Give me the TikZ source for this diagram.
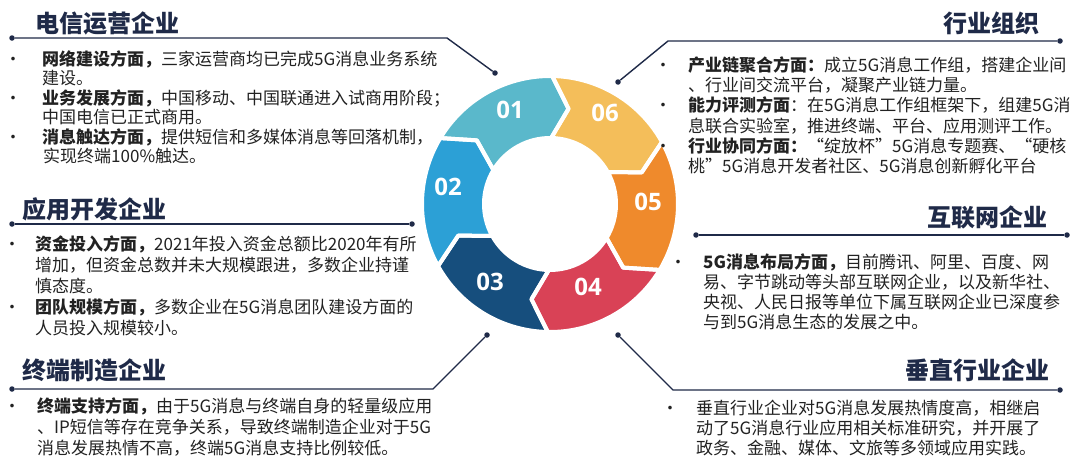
\documentclass[tikz,border=0pt]{standalone}
\usepackage{fontspec}
\setmainfont{Noto Sans CJK SC}
\newfontfamily\numfont{Open Sans}
\definecolor{c01}{HTML}{5AB8CB}
\definecolor{c02}{HTML}{2CA0D6}
\definecolor{c03}{HTML}{164E7D}
\definecolor{c04}{HTML}{D94256}
\definecolor{c05}{HTML}{EF8A2C}
\definecolor{c06}{HTML}{F4BE5A}
\definecolor{navy}{HTML}{1F2A48}
\definecolor{txtc}{HTML}{222222}
\newcommand\bl[1]{\makebox[#1pt][l]{\makebox[0pt][c]{•}}}
\newcommand\ct[1]{\hspace*{#1pt}}
\begin{document}
\begin{tikzpicture}[x=1pt,y=-1pt,
  body/.style={anchor=base west, text width=470pt, align=left, inner sep=0pt, text=txtc, font=\fontsize{17}{#1}\selectfont},
  ttl/.style={inner sep=0pt, text=navy, font=\fontsize{24}{28}\selectfont\bfseries},
  num/.style={text=white, font=\numfont\fontsize{24}{28}\selectfont\bfseries, inner sep=0pt},
  dot/.style={circle, fill=navy, inner sep=0pt, minimum size=5.5pt},
  conn/.style={draw=navy, line width=1.4pt},
  segline/.style={draw=white, line width=4pt, line join=round}]
\useasboundingbox[fill=white] (0,0) rectangle (1080,471);
% ring
\begin{scope}[shift={(550,204)}]
\foreach \b/\c in {-31/c05, 29/c06, 89/c01, 149/c02, 209/c03, 269/c04}{
  \fill[\c] ({-(\b+60)}:128) arc[start angle={-(\b+60)}, end angle={-\b}, radius=128]
     -- ({-(\b-10)}:97) -- ({-\b}:66) arc[start angle={-\b}, end angle={-(\b+60)}, radius=66]
     -- ({-(\b+50)}:97) -- cycle;
}
\foreach \b in {-31, 29, 89, 149, 209, 269}{
  \draw[segline] ({-(\b+60)}:128) arc[start angle={-(\b+60)}, end angle={-\b}, radius=128]
     -- ({-(\b-10)}:97) -- ({-\b}:66) arc[start angle={-\b}, end angle={-(\b+60)}, radius=66]
     -- ({-(\b+50)}:97) -- cycle;
}
\end{scope}
\node[num] (n01) at (510,110) {01};
\node[num] (n06) at (605,113) {06};
\node[num] (n05) at (648,202) {05};
\node[num] (n04) at (588,287) {04};
\node[num] (n03) at (490,282) {03};
\node[num] (n02) at (448,187) {02};
% connectors
\node[dot] (d1a) at (12,38) {};
\coordinate (k1) at (447,38);
\node[dot] (d1b) at (495,73) {};
\draw[conn] (d1a) -- (k1) -- (d1b);
\node[dot] (d2a) at (12,224) {};
\node[dot] (d2b) at (412,224) {};
\draw[conn] (d2a) -- (d2b);
\node[dot] (d3a) at (12,389) {};
\coordinate (k3) at (433,389);
\node[dot] (d3b) at (487,335) {};
\draw[conn] (d3a) -- (k3) -- (d3b);
\node[dot] (d4a) at (1060,41) {};
\coordinate (k4) at (668,41);
\node[dot] (d4b) at (618,82) {};
\draw[conn] (d4a) -- (k4) -- (d4b);
\node[dot] (d5a) at (696,235) {};
\node[dot] (d5b) at (1067,235) {};
\draw[conn] (d5a) -- (d5b);
\node[dot] (d6a) at (1060,390) {};
\coordinate (k6) at (673,390);
\node[dot] (d6b) at (618,335) {};
\draw[conn] (d6a) -- (k6) -- (d6b);
% titles
\node[ttl, anchor=base west] (t1) at (35,32) {电信运营企业};
\node[ttl, anchor=base west] (t2) at (22,218) {应用开发企业};
\node[ttl, anchor=base west] (t3) at (22,379) {终端制造企业};
\node[ttl, anchor=base east] (t4) at (1040,32) {行业组织};
\node[ttl, anchor=base east] (t5) at (1048,226) {互联网企业};
\node[ttl, anchor=base east] (t6) at (1050,379) {垂直行业企业};
% body texts
\node[body=19.5] (b1) at (13,65) {\bl{29}\textbf{网络建设方面，}三家运营商均已完成5G消息业务系统\\
\ct{29}建设。\\
\bl{29}\textbf{业务发展方面，}中国移动、中国联通进入试商用阶段；\\
\ct{29}中国电信已正式商用。\\
\bl{29}\textbf{消息触达方面，}提供短信和多媒体消息等回落机制，\\
\ct{30}实现终端100\%触达。};
\node[body=21] (b2) at (12,250) {\bl{23}\textbf{资金投入方面，}2021年投入资金总额比2020年有所\\
\ct{23}增加，但资金总数并未大规模跟进，多数企业持谨\\
\ct{23}慎态度。\\
\bl{23}\textbf{团队规模方面，}多数企业在5G消息团队建设方面的\\
\ct{23}人员投入规模较小。};
\node[body=21] (b3) at (12,412) {\bl{25}\textbf{终端支持方面，}由于5G消息与终端自身的轻量级应用\\
\ct{25}、IP短信等存在竞争关系，导致终端制造企业对于5G\\
\ct{25}消息发展热情不高，终端5G消息支持比例较低。};
\node[body=20.2] (b4) at (663,71.5) {\bl{25}\textbf{产业链聚合方面：}成立5G消息工作组，搭建企业间\\
\ct{25}、行业间交流平台，凝聚产业链力量。\\
\bl{25}\textbf{能力评测方面}：在5G消息工作组框架下，组建5G消\\
\ct{25}息联合实验室，推进终端、平台、应用测评工作。\\
\bl{25}\textbf{行业协同方面：}“绽放杯”5G消息专题赛、“硬核\\
\ct{25}桃”5G消息开发者社区、5G消息创新孵化平台};
\node[body=20] (b5) at (678,268.5) {\bl{25}\textbf{5G消息布局方面，}目前腾讯、阿里、百度、网\\
\ct{25}易、字节跳动等头部互联网企业，以及新华社、\\
\ct{25}央视、人民日报等单位下属互联网企业已深度参\\
\ct{25}与到5G消息生态的发展之中。};
\node[body=20] (b6) at (670,414.5) {\bl{26}垂直行业企业对5G消息发展热情度高，相继启\\
\ct{26}动了5G消息行业应用相关标准研究，并开展了\\
\ct{26}政务、金融、媒体、文旅等多领域应用实践。};
\end{tikzpicture}
\end{document}
